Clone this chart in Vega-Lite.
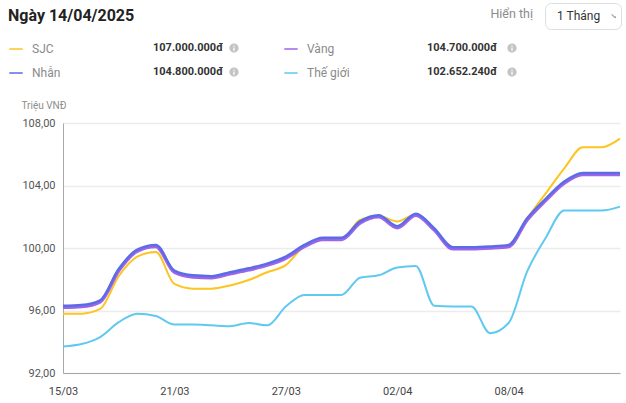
{
  "$schema": "https://vega.github.io/schema/vega-lite/v6.json",
  "width": 557,
  "height": 250,
  "autosize": {"type": "none"},
  "padding": {"left": 63, "top": 123, "right": 6, "bottom": 30},
  "background": "white",
  "config": {"font": "Roboto", "view": {"stroke": null}},
  "title": {"text": "Hiển thị", "anchor": "end", "frame": "group", "fontSize": 12.5, "fontWeight": "normal", "color": "#8c8c8c", "dx": -87, "offset": -18},
  "datasets": {
    "prices": [
      {"date": "2025-03-15T00:00", "SJC": 95.8, "Vàng": 96.2, "Nhẫn": 96.3, "Thế giới": 93.7},
      {"date": "2025-03-16T00:00", "SJC": 95.8, "Vàng": 96.25, "Nhẫn": 96.35, "Thế giới": 93.85},
      {"date": "2025-03-17T00:00", "SJC": 96.1, "Vàng": 96.55, "Nhẫn": 96.65, "Thế giới": 94.3},
      {"date": "2025-03-18T00:00", "SJC": 98.2, "Vàng": 98.55, "Nhẫn": 98.65, "Thế giới": 95.25},
      {"date": "2025-03-19T00:00", "SJC": 99.45, "Vàng": 99.8, "Nhẫn": 99.9, "Thế giới": 95.8},
      {"date": "2025-03-20T00:00", "SJC": 99.75, "Vàng": 100.1, "Nhẫn": 100.2, "Thế giới": 95.65},
      {"date": "2025-03-21T00:00", "SJC": 97.7, "Vàng": 98.45, "Nhẫn": 98.55, "Thế giới": 95.1},
      {"date": "2025-03-22T00:00", "SJC": 97.4, "Vàng": 98.15, "Nhẫn": 98.25, "Thế giới": 95.1},
      {"date": "2025-03-23T00:00", "SJC": 97.4, "Vàng": 98.1, "Nhẫn": 98.2, "Thế giới": 95.05},
      {"date": "2025-03-24T00:00", "SJC": 97.6, "Vàng": 98.35, "Nhẫn": 98.45, "Thế giới": 95.0},
      {"date": "2025-03-25T00:00", "SJC": 97.95, "Vàng": 98.6, "Nhẫn": 98.7, "Thế giới": 95.2},
      {"date": "2025-03-26T00:00", "SJC": 98.45, "Vàng": 98.9, "Nhẫn": 99.0, "Thế giới": 95.05},
      {"date": "2025-03-27T00:00", "SJC": 98.9, "Vàng": 99.35, "Nhẫn": 99.45, "Thế giới": 96.25},
      {"date": "2025-03-28T00:00", "SJC": 100.15, "Vàng": 100.1, "Nhẫn": 100.2, "Thế giới": 97.0},
      {"date": "2025-03-29T00:00", "SJC": 100.6, "Vàng": 100.55, "Nhẫn": 100.65, "Thế giới": 97.0},
      {"date": "2025-03-30T00:00", "SJC": 100.6, "Vàng": 100.55, "Nhẫn": 100.65, "Thế giới": 97.0},
      {"date": "2025-03-31T00:00", "SJC": 101.8, "Vàng": 101.6, "Nhẫn": 101.7, "Thế giới": 98.1},
      {"date": "2025-04-01T00:00", "SJC": 102.05, "Vàng": 102.0, "Nhẫn": 102.1, "Thế giới": 98.25},
      {"date": "2025-04-02T00:00", "SJC": 101.7, "Vàng": 101.3, "Nhẫn": 101.4, "Thế giới": 98.75},
      {"date": "2025-04-03T00:00", "SJC": 102.15, "Vàng": 102.1, "Nhẫn": 102.2, "Thế giới": 98.85},
      {"date": "2025-04-04T00:00", "SJC": 101.2, "Vàng": 101.15, "Nhẫn": 101.25, "Thế giới": 96.3},
      {"date": "2025-04-05T00:00", "SJC": 100.0, "Vàng": 99.95, "Nhẫn": 100.05, "Thế giới": 96.25},
      {"date": "2025-04-06T00:00", "SJC": 100.0, "Vàng": 99.95, "Nhẫn": 100.05, "Thế giới": 96.25},
      {"date": "2025-04-07T00:00", "SJC": 100.05, "Vàng": 100.0, "Nhẫn": 100.1, "Thế giới": 94.55},
      {"date": "2025-04-08T00:00", "SJC": 100.15, "Vàng": 100.1, "Nhẫn": 100.2, "Thế giới": 95.2},
      {"date": "2025-04-09T00:00", "SJC": 101.9, "Vàng": 101.8, "Nhẫn": 101.9, "Thế giới": 98.5},
      {"date": "2025-04-10T00:00", "SJC": 103.5, "Vàng": 103.05, "Nhẫn": 103.15, "Thế giới": 100.65},
      {"date": "2025-04-11T00:00", "SJC": 105.1, "Vàng": 104.15, "Nhẫn": 104.25, "Thế giới": 102.4},
      {"date": "2025-04-12T00:00", "SJC": 106.45, "Vàng": 104.7, "Nhẫn": 104.8, "Thế giới": 102.4},
      {"date": "2025-04-13T00:00", "SJC": 106.45, "Vàng": 104.7, "Nhẫn": 104.8, "Thế giới": 102.4},
      {"date": "2025-04-14T00:00", "SJC": 107.0, "Vàng": 104.7, "Nhẫn": 104.8, "Thế giới": 102.65}
    ],
    "summary": [
      {"series": "SJC", "price_label": "107.000.000đ", "icon": "i-SJC"},
      {"series": "Vàng", "price_label": "104.700.000đ", "icon": "i-Vàng"},
      {"series": "Nhẫn", "price_label": "104.800.000đ", "icon": "i-Nhẫn"},
      {"series": "Thế giới", "price_label": "102.652.240đ", "icon": "i-Thế giới"}
    ],
    "ui": [
      {"opt": "1 Tháng"},
      {"opt": "v"}
    ]
  },
  "layer": [
    {
      "data": {"name": "prices"},
      "transform": [{"fold": ["SJC", "Vàng", "Nhẫn", "Thế giới"], "as": ["series", "price"]}],
      "encoding": {
        "x": {
          "field": "date", "type": "temporal",
          "scale": {"domain": [{"year": 2025, "month": 3, "date": 15}, {"year": 2025, "month": 4, "date": 14}], "nice": false},
          "axis": {
            "title": null,
            "values": [{"year": 2025, "month": 3, "date": 15}, {"year": 2025, "month": 3, "date": 21}, {"year": 2025, "month": 3, "date": 27}, {"year": 2025, "month": 4, "date": 2}, {"year": 2025, "month": 4, "date": 8}],
            "format": "%d/%m", "labelFlush": false,
            "grid": false, "ticks": false,
            "domainColor": "#a8a8a8", "domainWidth": 1,
            "labelColor": "#444", "labelFontSize": 11, "labelPadding": 12
          }
        },
        "y": {
          "field": "price", "type": "quantitative",
          "scale": {"domain": [92, 108], "nice": false, "zero": false},
          "axis": {
            "values": [92, 96, 100, 104, 108],
            "labelExpr": "replace(format(datum.value, '.2f'), '.', ',')",
            "grid": true, "gridColor": "#ececec", "gridWidth": 1.5,
            "ticks": false,
            "domainColor": "#a8a8a8", "domainWidth": 1,
            "labelColor": "#555", "labelFontSize": 11, "labelPadding": 8,
            "title": "Triệu VNĐ", "titleAngle": 0, "titleAlign": "left", "titleBaseline": "middle",
            "titleX": -42, "titleY": -18, "titleFontSize": 10, "titleFontWeight": "normal", "titleColor": "#8c8c8c"
          }
        },
        "color": {
          "field": "series", "type": "nominal",
          "scale": {"domain": ["SJC", "Nhẫn", "Vàng", "Thế giới"], "range": ["#FDC521", "#5B6DE6", "#A064E8", "#5FC9F0"]},
          "legend": {
            "orient": "none", "legendX": -55, "legendY": -115,
            "columns": 2, "columnPadding": 222, "rowPadding": 10, "clipHeight": 14,
            "symbolType": "stroke", "symbolStrokeWidth": 2, "symbolSize": 180, "symbolOpacity": 0.75,
            "labelFontSize": 12, "labelColor": "#8a8a8a", "labelOffset": 8,
            "title": "Ngày 14/04/2025", "titleFontSize": 16, "titleFontWeight": "bold", "titleColor": "#222", "titlePadding": 18,
            "padding": 0
          }
        }
      },
      "layer": [
        {"transform": [{"filter": "datum.series == 'Thế giới'"}], "mark": {"type": "line", "interpolate": "monotone", "strokeWidth": 2}},
        {"transform": [{"filter": "datum.series == 'SJC'"}], "mark": {"type": "line", "interpolate": "monotone", "strokeWidth": 2}},
        {"transform": [{"filter": "datum.series == 'Vàng'"}], "mark": {"type": "line", "interpolate": "monotone", "strokeWidth": 3.5}},
        {"transform": [{"filter": "datum.series == 'Nhẫn'"}], "mark": {"type": "line", "interpolate": "monotone", "strokeWidth": 2.5}}
      ]
    },
    {
      "data": {"name": "summary"},
      "mark": {"type": "point", "opacity": 0, "filled": true},
      "encoding": {
        "strokeDash": {
          "field": "price_label", "type": "nominal",
          "scale": {"domain": ["107.000.000đ", "104.800.000đ", "104.700.000đ", "102.652.240đ"], "range": [[1, 0], [1, 0], [1, 0], [1, 0]]},
          "legend": {
            "orient": "none", "legendX": 79, "legendY": -82, "title": null,
            "columns": 2, "columnPadding": 192, "rowPadding": 10, "clipHeight": 14,
            "symbolSize": 1, "symbolOpacity": 0, "symbolStrokeWidth": 0, "labelOffset": 0,
            "labelFontSize": 11, "labelFontWeight": "bold", "labelColor": "#333", "padding": 0
          }
        },
        "fill": {
          "field": "icon", "type": "nominal",
          "scale": {"domain": ["i-SJC", "i-Nhẫn", "i-Vàng", "i-Thế giới"], "range": ["#c4c4c4", "#c4c4c4", "#c4c4c4", "#c4c4c4"]},
          "legend": {
            "orient": "none", "legendX": 166, "legendY": -82, "title": null,
            "columns": 2, "columnPadding": 264, "rowPadding": 10, "clipHeight": 14,
            "symbolType": "M-1,0A1,1,0,1,1,1,0A1,1,0,1,1,-1,0ZM-0.14,-0.12L-0.14,0.6L0.14,0.6L0.14,-0.12ZM-0.14,-0.55L-0.14,-0.3L0.14,-0.3L0.14,-0.55Z",
            "symbolSize": 85, "symbolStrokeWidth": 0, "labelExpr": "''", "padding": 0
          }
        }
      }
    },
    {
      "data": {"name": "ui"},
      "mark": {"type": "point", "opacity": 0},
      "encoding": {
        "shape": {
          "field": "opt", "type": "nominal",
          "scale": {"domain": ["1 Tháng", "v"], "range": ["M0,0", "M-1,-0.5L0,0.5L1,-0.5"]},
          "legend": {
            "orient": "none", "legendX": 482, "legendY": -120, "title": null,
            "columns": 2, "columnPadding": 8, "clipHeight": 16,
            "symbolSize": 45, "symbolFillColor": "transparent", "symbolStrokeColor": "#a0a0a0", "symbolStrokeWidth": 1.2,
            "labelExpr": "datum.value == 'v' ? '' : datum.label", "labelFontSize": 12, "labelColor": "#333", "labelOffset": -5,
            "padding": 5, "strokeColor": "#dddddd", "cornerRadius": 6
          }
        }
      }
    }
  ]
}
